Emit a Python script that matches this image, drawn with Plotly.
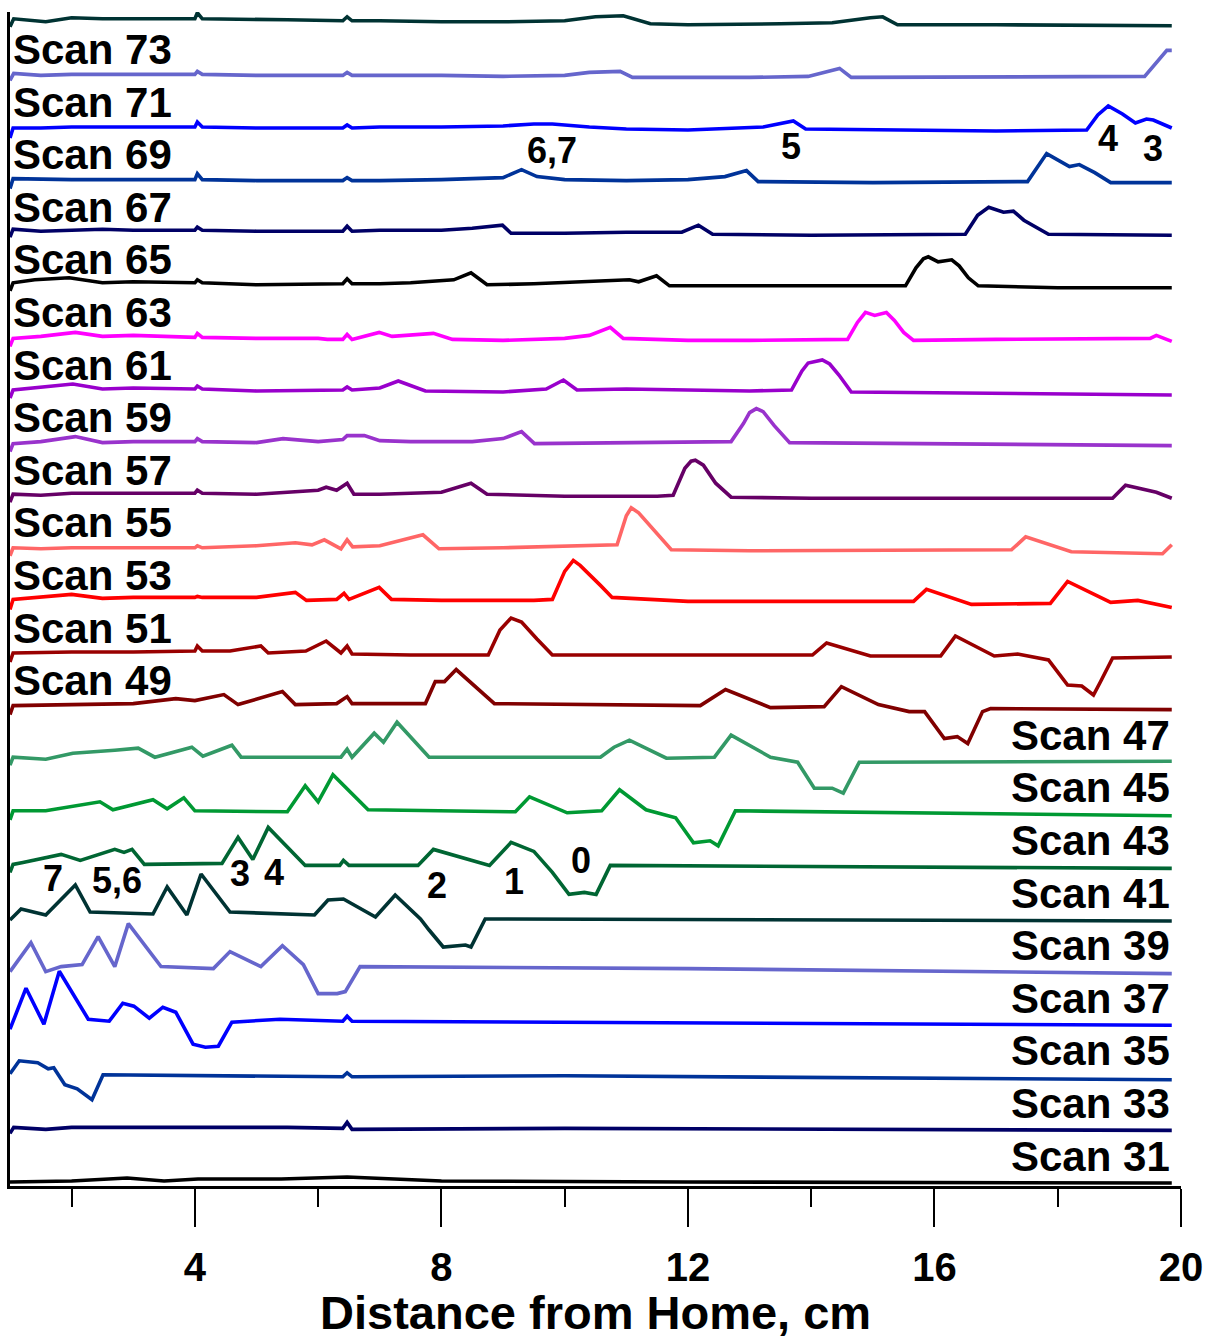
import plotly.graph_objects as go

# ---- scan profiles: distance (cm) and signal (arb. units above each scan's baseline) ----
scan75_x = [1.00, 1.06, 1.58, 2.0, 2.5, 3.0, 4.0, 4.04, 4.12, 5.5, 6.40, 6.47, 6.55, 7.0, 8.0, 9.0, 10.0, 10.5, 10.95, 11.39, 12.0, 13.5, 14.34, 14.96, 15.16, 15.40, 17.0, 19.85]
scan75_y = [-2, 6, 3, 7, 6, 6, 6, 12, 6, 5, 4, 8, 4, 4, 3, 3, 4, 8, 9, 1, 0, 1, 2, 7, 8, 0, 0, -1]

scan73_x = [1.00, 1.06, 1.5, 2.0, 3.0, 4.0, 4.04, 4.12, 5.0, 6.40, 6.47, 6.55, 7.0, 8.0, 9.0, 10.0, 10.4, 10.9, 11.1, 13.0, 13.95, 14.46, 14.65, 19.41, 19.77, 19.85]
scan73_y = [-3, 4, 2, 3, 3, 3, 6, 3, 2, 2, 5, 2, 2, 2, 1, 2, 5, 6, 0, 0, 1, 9, 0, 1, 27, 27]

scan71_x = [1.00, 1.05, 1.5, 2.0, 3.0, 4.0, 4.04, 4.12, 5.0, 6.40, 6.47, 6.55, 7.0, 8.0, 9.0, 9.5, 9.8, 10.4, 11.0, 12.0, 13.22, 13.71, 13.91, 15.0, 17.0, 18.47, 18.65, 18.82, 19.05, 19.26, 19.44, 19.55, 19.85]
scan71_y = [-8, 2, 2, 3, 3, 3, 8, 3, 2, 2, 5, 2, 3, 3, 4, 6, 6, 3, 1, 0, 3, 9, 1, 0, -1, 0, 15, 24, 16, 7, 11, 10, 2]

scan69_x = [1.00, 1.05, 2.0, 3.0, 4.0, 4.04, 4.12, 5.0, 6.40, 6.47, 6.55, 7.0, 8.0, 9.0, 9.30, 9.55, 10.0, 11.0, 12.0, 12.6, 12.95, 13.14, 15.0, 17.51, 17.82, 18.19, 18.35, 18.6, 18.86, 19.85]
scan69_y = [-6, 4, 3, 3, 3, 9, 3, 2, 2, 5, 2, 2, 3, 5, 13, 6, 3, 2, 3, 6, 12, 1, 0, 1, 29, 16, 18, 10, 0, 0]

scan67_x = [1.00, 1.05, 1.5, 2.0, 2.5, 3.0, 4.0, 4.04, 4.12, 5.0, 6.40, 6.47, 6.55, 7.0, 8.0, 8.5, 8.99, 9.13, 10.0, 11.0, 11.9, 12.17, 12.40, 14.0, 16.5, 16.7, 16.88, 17.12, 17.28, 17.45, 17.85, 19.85]
scan67_y = [-2, 6, 4, 5, 6, 5, 5, 8, 5, 4, 4, 9, 4, 5, 5, 7, 10, 2, 2, 3, 3, 10, 1, 0, 1, 20, 28, 23, 24, 15, 1, 0]

scan65_x = [1.00, 1.05, 1.4, 1.96, 2.5, 3.0, 4.0, 4.04, 4.12, 5.0, 6.40, 6.47, 6.55, 7.0, 7.5, 8.2, 8.48, 8.74, 9.5, 10.5, 11.05, 11.2, 11.49, 11.70, 13.0, 15.53, 15.7, 15.82, 15.90, 16.06, 16.28, 16.4, 16.55, 16.71, 18.0, 19.85]
scan65_y = [-3, 5, 8, 10, 5, 6, 5, 8, 5, 3, 4, 9, 4, 4, 5, 8, 15, 3, 4, 6, 8, 6, 12, 2, 2, 2, 20, 29, 31, 26, 28, 22, 10, 2, 0, 0]

scan63_x = [1.00, 1.05, 1.5, 2.06, 2.5, 3.0, 4.0, 4.04, 4.12, 5.0, 6.0, 6.15, 6.40, 6.47, 6.55, 6.99, 7.2, 7.87, 8.18, 9.0, 10.0, 10.4, 10.74, 10.95, 12.0, 13.0, 14.59, 14.75, 14.88, 15.03, 15.22, 15.35, 15.5, 15.66, 17.0, 19.5, 19.6, 19.85]
scan63_y = [-6, 2, 4, 8, 4, 5, 3, 7, 3, 2, 2, 1, 1, 6, 1, 8, 4, 7, 1, 0, 2, 5, 13, 2, 0, 0, 1, 18, 28, 25, 28, 20, 8, 0, 1, 2, 5, -1]

scan61_x = [1.00, 1.05, 2.02, 2.5, 3.0, 4.0, 4.04, 4.12, 5.0, 6.0, 6.40, 6.47, 6.55, 7.0, 7.30, 7.74, 9.0, 9.7, 9.98, 10.2, 11.0, 13.0, 13.68, 13.85, 13.95, 14.18, 14.3, 14.45, 14.65, 19.85]
scan61_y = [-5, 3, 9, 4, 5, 4, 7, 4, 2, 3, 3, 6, 3, 5, 12, 2, 1, 4, 13, 3, 4, 2, 3, 22, 30, 33, 29, 18, 1, -2]

scan59_x = [1.00, 1.05, 1.5, 2.06, 2.5, 3.0, 4.0, 4.04, 4.12, 5.0, 5.43, 6.0, 6.40, 6.47, 6.75, 7.0, 7.5, 8.5, 9.0, 9.30, 9.51, 11.0, 12.7, 12.9, 13.0, 13.11, 13.22, 13.4, 13.65, 19.85]
scan59_y = [-6, 2, 4, 9, 3, 4, 4, 7, 4, 3, 7, 4, 6, 10, 10, 5, 4, 4, 7, 14, 2, 3, 4, 22, 33, 37, 34, 20, 3, 0]

scan57_x = [1.00, 1.05, 1.5, 2.0, 3.0, 4.0, 4.04, 4.12, 5.0, 6.0, 6.13, 6.3, 6.47, 6.58, 7.0, 8.0, 8.48, 8.74, 10.0, 11.5, 11.76, 11.95, 12.05, 12.12, 12.25, 12.45, 12.7, 14.0, 18.89, 19.10, 19.60, 19.85]
scan57_y = [-4, 4, 3, 5, 5, 5, 8, 5, 4, 8, 11, 8, 15, 4, 4, 6, 15, 4, 2, 2, 3, 30, 37, 38, 33, 15, 1, 0, 0, 13, 6, 0]

scan55_x = [1.00, 1.05, 1.5, 2.0, 3.0, 4.0, 4.04, 4.12, 5.0, 5.63, 5.9, 6.10, 6.37, 6.47, 6.56, 7.0, 7.70, 7.96, 9.0, 10.5, 10.85, 11.0, 11.08, 11.2, 11.45, 11.73, 13.0, 17.25, 17.48, 18.22, 19.7, 19.85]
scan55_y = [-5, 3, 2, 3, 3, 3, 5, 3, 5, 8, 6, 11, 2, 11, 4, 5, 16, 2, 3, 5, 6, 35, 43, 38, 20, 1, 0, 1, 14, -1, -3, 6]

scan53_x = [1.00, 1.05, 2.0, 2.5, 3.0, 4.0, 4.04, 4.12, 5.0, 5.63, 5.81, 6.3, 6.42, 6.5, 6.99, 7.19, 8.0, 9.5, 9.80, 10.0, 10.14, 10.25, 10.58, 10.77, 12.0, 15.66, 15.87, 16.6, 17.88, 18.16, 18.86, 19.3, 19.85]
scan53_y = [-6, 4, 9, 5, 6, 6, 7, 6, 6, 11, 3, 4, 10, 4, 16, 4, 3, 3, 4, 32, 43, 38, 18, 6, 2, 2, 14, -1, 0, 22, 1, 3, -4]

scan51_x = [1.00, 1.05, 2.0, 3.0, 4.0, 4.04, 4.12, 4.57, 5.07, 5.19, 5.8, 6.13, 6.37, 6.47, 6.55, 7.5, 8.76, 8.95, 9.13, 9.3, 9.55, 9.80, 12.0, 14.02, 14.25, 14.96, 16.10, 16.34, 16.97, 17.35, 17.85, 18.05, 18.16, 18.39, 18.58, 18.7, 18.89, 19.85]
scan51_y = [-6, 3, 4, 4, 5, 10, 5, 5, 10, 3, 5, 15, 3, 10, 2, 1, 1, 26, 38, 34, 17, 1, 1, 1, 13, 0, 0, 20, 0, 2, -4, -20, -29, -30, -39, -25, -2, -1]

scan49_x = [1.00, 1.05, 2.0, 3.0, 3.69, 4.0, 4.47, 4.70, 5.42, 5.63, 6.3, 6.47, 6.55, 7.74, 7.90, 8.05, 8.24, 8.5, 8.86, 12.2, 12.61, 13.34, 14.21, 14.49, 15.09, 15.59, 15.84, 16.16, 16.37, 16.54, 16.78, 16.91, 19.85]
scan49_y = [-6, 3, 4, 5, 10, 8, 14, 4, 17, 4, 5, 12, 5, 5, 27, 27, 39, 25, 5, 3, 19, 1, 2, 22, 4, -3, -3, -30, -28, -35, -3, 0, -1]

scan47_x = [1.00, 1.05, 1.58, 2.02, 2.70, 3.08, 3.35, 3.95, 4.13, 4.60, 4.75, 6.37, 6.47, 6.55, 6.91, 7.06, 7.28, 7.80, 10.58, 10.8, 11.05, 11.65, 12.43, 12.70, 13.34, 13.78, 14.05, 14.34, 14.52, 14.78, 19.85]
scan47_y = [-4, 4, 2, 8, 11, 13, 4, 14, 5, 16, 4, 4, 12, 4, 28, 19, 39, 4, 4, 14, 21, 3, 4, 26, 4, -1, -27, -27, -32, -1, 0]

scan45_x = [1.00, 1.05, 1.58, 2.46, 2.67, 3.32, 3.55, 3.82, 4.00, 5.50, 5.79, 6.00, 6.24, 6.81, 9.20, 9.43, 10.04, 10.6, 10.89, 11.32, 11.80, 12.09, 12.36, 12.49, 12.77, 19.85]
scan45_y = [-6, 3, 3, 12, 4, 14, 5, 16, 3, 2, 28, 12, 39, 4, 2, 17, 1, 3, 24, 4, -4, -29, -27, -32, 3, -2]

scan43_x = [1.00, 1.05, 1.21, 1.83, 2.14, 2.70, 2.85, 2.98, 3.18, 4.44, 4.70, 4.94, 5.19, 5.79, 6.35, 6.41, 6.5, 7.62, 7.87, 8.78, 9.13, 9.5, 9.80, 10.07, 10.32, 10.51, 10.74, 19.85]
scan43_y = [-6, 2, 4, 12, 6, 17, 14, 17, 2, 3, 29, 7, 39, 1, 1, 6, 1, 1, 17, 1, 24, 15, -6, -28, -26, -28, 1, -2]

scan41_x = [1.00, 1.18, 1.58, 2.06, 2.30, 3.32, 3.55, 3.87, 4.10, 4.57, 5.94, 6.16, 6.41, 6.93, 7.25, 7.66, 7.80, 8.03, 8.39, 8.48, 8.71, 19.85]
scan41_y = [-1, 10, 4, 34, 7, 5, 32, 4, 45, 7, 4, 19, 20, 2, 24, 0, -11, -28, -26, -28, 0, -2]

scan39_x = [1.00, 1.34, 1.58, 1.83, 2.17, 2.43, 2.70, 2.92, 3.45, 4.30, 4.57, 5.07, 5.42, 5.76, 6.00, 6.31, 6.44, 6.68, 12.0, 15.0, 19.85]
scan39_y = [0, 29, 0, 5, 7, 35, 5, 48, 5, 3, 20, 5, 26, 7, -22, -22, -20, 5, 3, 1, -2]

scan37_x = [1.00, 1.26, 1.55, 1.80, 2.27, 2.61, 2.83, 3.01, 3.26, 3.48, 3.69, 3.97, 4.17, 4.38, 4.60, 5.38, 6.40, 6.47, 6.55, 10.0, 19.85]
scan37_y = [-5, 36, 0, 53, 5, 3, 21, 18, 6, 17, 12, -20, -23, -22, 2, 5, 3, 8, 3, 2, -1]

scan35_x = [1.00, 1.15, 1.45, 1.62, 1.71, 1.89, 2.09, 2.33, 2.51, 6.40, 6.47, 6.55, 10.0, 19.85]
scan35_y = [3, 16, 14, 8, 9, -8, -12, -23, 2, 0, 4, 0, 1, -3]

scan33_x = [1.00, 1.06, 1.58, 2.0, 3.0, 5.5, 6.40, 6.47, 6.55, 10.0, 19.85]
scan33_y = [-4, 2, 0, 2, 2, 2, 1, 7, 0, 1, -1]

scan31_x = [1.00, 2.0, 2.9, 3.5, 4.05, 5.4, 6.47, 8.0, 12.0, 19.85]
scan31_y = [0, 1, 4, 1, 3, 3, 5, 1, 0, -1]

scan_numbers = [31, 33, 35, 37, 39, 41, 43, 45, 47, 49, 51, 53, 55, 57, 59, 61, 63, 65, 67, 69, 71, 73, 75]
scan_colors = ["#000000", "#000066", "#003399", "#0000FF", "#6666CC", "#003333",
               "#006633", "#009933", "#339966", "#800000", "#990000", "#FF0000",
               "#FF6666", "#660066", "#9933CC", "#9900CC", "#FF00FF", "#000000",
               "#000066", "#003399", "#0000FF", "#6666CC", "#003333"]

# peak assignment labels: (text, distance cm, height)
peak_labels = [("6,7", 9.80, 1036), ("5", 13.68, 1040), ("4", 18.82, 1048), ("3", 19.54, 1038),
               ("7", 1.70, 308), ("5,6", 2.74, 306), ("3", 4.73, 313), ("4", 5.29, 314),
               ("2", 7.93, 301), ("1", 9.18, 305), ("0", 10.27, 326)]

tick_values = [4, 8, 12, 16, 20]
x_title = "Distance from Home, cm"

# ---- layout constants ----
FONT = "Liberation Sans, Arial, sans-serif"
BASE = 4.0          # baseline height of the first scan
STEP = 52.6         # vertical spacing between stacked scans
Y_TOP = 1174.0

profiles = {
    31: (scan31_x, scan31_y), 33: (scan33_x, scan33_y), 35: (scan35_x, scan35_y),
    37: (scan37_x, scan37_y), 39: (scan39_x, scan39_y), 41: (scan41_x, scan41_y),
    43: (scan43_x, scan43_y), 45: (scan45_x, scan45_y), 47: (scan47_x, scan47_y),
    49: (scan49_x, scan49_y), 51: (scan51_x, scan51_y), 53: (scan53_x, scan53_y),
    55: (scan55_x, scan55_y), 57: (scan57_x, scan57_y), 59: (scan59_x, scan59_y),
    61: (scan61_x, scan61_y), 63: (scan63_x, scan63_y), 65: (scan65_x, scan65_y),
    67: (scan67_x, scan67_y), 69: (scan69_x, scan69_y), 71: (scan71_x, scan71_y),
    73: (scan73_x, scan73_y), 75: (scan75_x, scan75_y),
}

fig = go.Figure()
annotations = []
for i, (num, color) in enumerate(zip(scan_numbers, scan_colors)):
    xs, ys = profiles[num]
    offset = BASE + i * STEP
    fig.add_trace(go.Scatter(
        x=xs, y=[offset + v for v in ys], mode="lines",
        line=dict(color=color, width=3.6, shape="linear"),
        name=f"Scan {num}", hoverinfo="skip",
    ))
    if num == 75:
        continue
    if num >= 49:
        annotations.append(dict(x=1.01, y=offset + 28, xref="x", yref="y",
                                text=f"<b>Scan {num}</b>", showarrow=False,
                                xanchor="left", yanchor="middle",
                                font=dict(family=FONT, size=42, color="black")))
    else:
        annotations.append(dict(x=19.86, y=offset + 26, xref="x", yref="y",
                                text=f"<b>Scan {num}</b>", showarrow=False,
                                xanchor="right", yanchor="middle",
                                font=dict(family=FONT, size=42, color="black")))

for txt, xv, yv in peak_labels:
    annotations.append(dict(x=xv, y=yv, xref="x", yref="y", text=f"<b>{txt}</b>",
                            showarrow=False, xanchor="center", yanchor="middle",
                            font=dict(family=FONT, size=36, color="black")))

annotations.append(dict(x=0.5, y=-0.108, xref="paper", yref="paper",
                        text=f"<b>{x_title}</b>", showarrow=False,
                        xanchor="center", yanchor="middle",
                        font=dict(family=FONT, size=47, color="black")))

fig.update_layout(
    width=1205, height=1342,
    margin=dict(l=10, r=24, t=12, b=156),
    paper_bgcolor="white", plot_bgcolor="white",
    showlegend=False,
    annotations=annotations,
    xaxis=dict(
        range=[1, 20], tickmode="array", tickvals=tick_values,
        ticktext=[f"<b>{v}</b>" for v in tick_values],
        ticks="outside", ticklen=38, tickwidth=2, tickcolor="black",
        minor=dict(dtick=2, tick0=0, ticks="outside", ticklen=18, tickwidth=2, tickcolor="black"),
        showline=True, linewidth=2.5, linecolor="black",
        showgrid=False, zeroline=False, automargin=False,
        ticklabelstandoff=6,
        tickfont=dict(family=FONT, size=40, color="black"),
    ),
    yaxis=dict(
        range=[0, Y_TOP], showline=True, linewidth=2.5, linecolor="black",
        showticklabels=False, ticks="", showgrid=False, zeroline=False,
        automargin=False,
    ),
)

fig.write_html("out.html")
